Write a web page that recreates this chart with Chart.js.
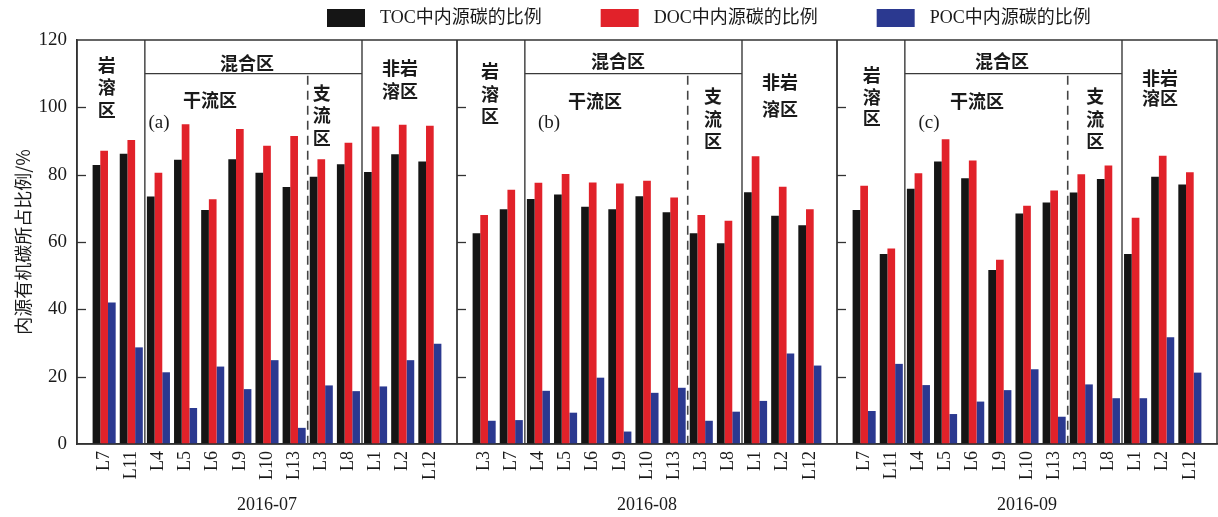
<!DOCTYPE html>
<html>
<head>
<meta charset="utf-8">
<script src="https://cdn.jsdelivr.net/npm/chart.js@4.4.1/dist/chart.umd.min.js"></script>
<style>
  html, body { margin: 0; padding: 0; background: #ffffff; }
  #wrap { width: 1218px; height: 517px; position: relative; }
</style>
</head>
<body>
<div id="wrap"><canvas id="c" width="1218" height="517"></canvas></div>
<script>
// Sampling months, one panel each
const periods = ['2016-07', '2016-08', '2016-09'];
const panelTags = ['(a)', '(b)', '(c)'];

// Sites in each panel, left to right
const sites07 = ['L7', 'L11', 'L4', 'L5', 'L6', 'L9', 'L10', 'L13', 'L3', 'L8', 'L1', 'L2', 'L12'];
const sites08 = ['L3', 'L7', 'L4', 'L5', 'L6', 'L9', 'L10', 'L13', 'L3', 'L8', 'L1', 'L2', 'L12'];
const sites09 = ['L7', 'L11', 'L4', 'L5', 'L6', 'L9', 'L10', 'L13', 'L3', 'L8', 'L1', 'L2', 'L12'];

// Share of autochthonous carbon (%)
const toc07 = [82.9, 86.2, 73.5, 84.4, 69.5, 84.6, 80.6, 76.3, 79.4, 83.1, 80.8, 86.1, 83.9];
const doc07 = [87.1, 90.3, 80.6, 95.0, 72.7, 93.6, 88.6, 91.5, 84.6, 89.5, 94.3, 94.8, 94.5];
const poc07 = [42.0, 28.7, 21.3, 10.7, 23.0, 16.3, 24.9, 4.8, 17.4, 15.7, 17.1, 24.9, 29.8];

const toc08 = [62.6, 69.7, 72.8, 74.1, 70.5, 69.7, 73.6, 68.8, 62.6, 59.6, 74.8, 67.8, 65.0];
const doc08 = [68.0, 75.5, 77.6, 80.2, 77.7, 77.4, 78.2, 73.2, 68.0, 66.3, 85.5, 76.4, 69.7];
const poc08 = [6.9, 7.1, 15.8, 9.3, 19.7, 3.7, 15.2, 16.7, 6.9, 9.6, 12.8, 26.9, 23.3];

const toc09 = [69.5, 56.4, 75.8, 83.9, 78.9, 51.7, 68.5, 71.7, 74.7, 78.7, 56.4, 79.4, 77.1];
const doc09 = [76.7, 58.1, 80.4, 90.5, 84.2, 54.7, 70.8, 75.3, 80.1, 82.7, 67.2, 85.6, 80.7];
const poc09 = [9.8, 23.8, 17.5, 8.9, 12.6, 16.0, 22.2, 8.1, 17.7, 13.6, 13.6, 31.7, 21.2];

const seriesNames = ['TOC中内源碳的比例', 'DOC中内源碳的比例', 'POC中内源碳的比例'];
const seriesColors = ['#151515', '#e1222a', '#2b3990'];

const yTicks = [0, 20, 40, 60, 80, 100, 120];
const yTitle = '内源有机碳所占比例/%';

// Zone labels, placed by slot within the panel and by value on the y scale
const zoneNotes = [
  [
    { x: 1.10, y: 112.6, lines: ['岩', '溶', '区'], gap: 22.7 },
    { x: 6.26, y: 113.2, lines: ['混合区'] },
    { x: 4.90, y: 102.2, lines: ['干流区'] },
    { x: 3.02, y: 95.4, lines: [panelTags[0]], latin: true },
    { x: 9.02, y: 104.3, lines: ['支', '流', '区'], gap: 22.5 },
    { x: 11.90, y: 111.7, lines: ['非岩', '溶区'], gap: 23.7 }
  ],
  [
    { x: 1.22, y: 110.6, lines: ['岩', '溶', '区'], gap: 22.5 },
    { x: 5.93, y: 113.6, lines: ['混合区'] },
    { x: 5.08, y: 101.9, lines: ['干流区'] },
    { x: 3.39, y: 95.4, lines: [panelTags[1]], latin: true },
    { x: 9.43, y: 103.2, lines: ['支', '流', '区'], gap: 22.5 },
    { x: 11.90, y: 107.6, lines: ['非岩', '溶区'], gap: 27 }
  ],
  [
    { x: 1.28, y: 109.6, lines: ['岩', '溶', '区'], gap: 21.7 },
    { x: 6.08, y: 113.6, lines: ['混合区'] },
    { x: 5.16, y: 101.9, lines: ['干流区'] },
    { x: 3.39, y: 95.4, lines: [panelTags[2]], latin: true },
    { x: 9.51, y: 103.2, lines: ['支', '流', '区'], gap: 22.5 },
    { x: 11.90, y: 108.6, lines: ['非岩', '溶区'], gap: 20 }
  ]
];

// Zone boundaries (slot positions within a panel)
const karstEdge = 2.5, mixEdge = 10.5, tributaryEdge = 8.5, mixTopValue = 110;
const SLOTS = 14; // half-slot margin + 13 sites + half-slot margin

const SERIF = '"Liberation Serif", "Times New Roman", "Noto Sans CJK SC", serif';

// Build one long category axis: blank slots mark panel edges
const panelSites = [sites07, sites08, sites09];
const panelToc = [toc07, toc08, toc09];
const panelDoc = [doc07, doc08, doc09];
const panelPoc = [poc07, poc08, poc09];

const labels = [''];
const tocAll = [null], docAll = [null], pocAll = [null];
panelSites.forEach((sites, p) => {
  sites.forEach((s, i) => {
    labels.push(s);
    tocAll.push(panelToc[p][i]);
    docAll.push(panelDoc[p][i]);
    pocAll.push(panelPoc[p][i]);
  });
  labels.push('');
  tocAll.push(null); docAll.push(null); pocAll.push(null);
});

const panelDecor = {
  id: 'panelDecor',
  afterDatasetsDraw(chart) {
    const { ctx, chartArea: ca, scales: { x, y } } = chart;
    ctx.save();

    // panel dividers
    ctx.strokeStyle = '#4a4a4a';
    ctx.lineWidth = 2;
    for (let p = 1; p < periods.length; p++) {
      const px = Math.round(x.getPixelForValue(p * SLOTS));
      ctx.beginPath(); ctx.moveTo(px, ca.top); ctx.lineTo(px, ca.bottom); ctx.stroke();
    }

    for (let p = 0; p < periods.length; p++) {
      const base = p * SLOTS;
      const xa = x.getPixelForValue(base + karstEdge);
      const xb = x.getPixelForValue(base + mixEdge);
      const xd = x.getPixelForValue(base + tributaryEdge);
      const yMix = y.getPixelForValue(mixTopValue);

      // zone boundaries
      ctx.strokeStyle = '#3a3a3a';
      ctx.lineWidth = 1.4;
      ctx.setLineDash([]);
      [xa, xb].forEach(px => {
        ctx.beginPath(); ctx.moveTo(px, ca.top); ctx.lineTo(px, ca.bottom); ctx.stroke();
      });
      ctx.beginPath(); ctx.moveTo(xa, yMix); ctx.lineTo(xb, yMix); ctx.stroke();

      // main stream / tributary divider
      ctx.strokeStyle = '#444';
      ctx.lineWidth = 1.6;
      ctx.setLineDash([9, 6]);
      ctx.beginPath(); ctx.moveTo(xd, yMix + 2); ctx.lineTo(xd, ca.bottom); ctx.stroke();
      ctx.setLineDash([]);

      // inward y ticks on each panel's left edge
      const x0 = x.getPixelForValue(base);
      ctx.strokeStyle = '#333';
      ctx.lineWidth = 1.3;
      yTicks.forEach(v => {
        if (v === 0 || v === 120) return;
        const py = Math.round(y.getPixelForValue(v)) + 0.5;
        ctx.beginPath(); ctx.moveTo(x0, py); ctx.lineTo(x0 + 9, py); ctx.stroke();
      });

      // zone labels
      ctx.fillStyle = '#1a1a1a';
      ctx.textAlign = 'center';
      ctx.textBaseline = 'middle';
      zoneNotes[p].forEach(n => {
        ctx.font = n.latin ? '19px ' + SERIF : '600 18px "Noto Sans CJK SC", ' + SERIF;
        const cx = x.getPixelForValue(base + n.x);
        const cy = y.getPixelForValue(n.y);
        n.lines.forEach((t, k) => ctx.fillText(t, cx, cy + k * (n.gap || 0)));
      });

      // month label under each panel
      ctx.font = '18px ' + SERIF;
      ctx.fillStyle = '#1a1a1a';
      const mid = (x.getPixelForValue(base) + x.getPixelForValue(base + SLOTS)) / 2;
      ctx.fillText(periods[p], mid, 505);
    }

    // plot frame
    ctx.strokeStyle = '#333';
    ctx.lineWidth = 1.5;
    ctx.strokeRect(ca.left, ca.top, ca.right - ca.left, ca.bottom - ca.top);

    // legend row
    ctx.textAlign = 'left';
    ctx.textBaseline = 'middle';
    ctx.font = '18px ' + SERIF;
    let lx = 327;
    chart.data.datasets.forEach(ds => {
      ctx.fillStyle = ds.backgroundColor;
      ctx.fillRect(lx, 9, 38, 18);
      ctx.fillStyle = '#1a1a1a';
      ctx.fillText(ds.label, lx + 53, 18);
      lx += 38 + 15 + ctx.measureText(ds.label).width + 59;
    });

    ctx.restore();
  }
};

new Chart(document.getElementById('c'), {
  type: 'bar',
  data: {
    labels: labels,
    datasets: [
      { label: seriesNames[0], data: tocAll, backgroundColor: seriesColors[0] },
      { label: seriesNames[1], data: docAll, backgroundColor: seriesColors[1] },
      { label: seriesNames[2], data: pocAll, backgroundColor: seriesColors[2] }
    ]
  },
  options: {
    responsive: false,
    animation: false,
    devicePixelRatio: 1,
    layout: { padding: { top: 40, right: 1, left: 0, bottom: 0 } },
    datasets: { bar: { categoryPercentage: 0.85, barPercentage: 1.0, borderWidth: 0 } },
    plugins: { legend: { display: false }, tooltip: { enabled: false } },
    scales: {
      x: {
        type: 'category',
        offset: false,
        grid: { display: false, drawTicks: false },
        border: { display: true, color: '#333', width: 1.5 },
        ticks: {
          autoSkip: false,
          maxRotation: 90,
          minRotation: 90,
          padding: 7,
          color: '#1a1a1a',
          font: { family: SERIF, size: 18 }
        },
        afterFit(scale) {
          scale.height = 73;
          scale.paddingLeft = 0;
          scale.paddingRight = 0;
        }
      },
      y: {
        min: 0,
        max: 120,
        grid: { display: false, drawTicks: false },
        border: { display: true, color: '#333', width: 1.5 },
        ticks: {
          stepSize: 20,
          padding: 10,
          color: '#1a1a1a',
          font: { family: SERIF, size: 19 }
        },
        title: {
          display: true,
          text: yTitle,
          color: '#1a1a1a',
          padding: { top: 12, bottom: 0 },
          font: { family: '"Noto Sans CJK SC", ' + SERIF, size: 18 }
        },
        afterFit(scale) {
          scale.width = 77;
          scale.paddingTop = 0;
          scale.paddingBottom = 0;
        }
      }
    }
  },
  plugins: [panelDecor]
});
</script>
</body>
</html>
